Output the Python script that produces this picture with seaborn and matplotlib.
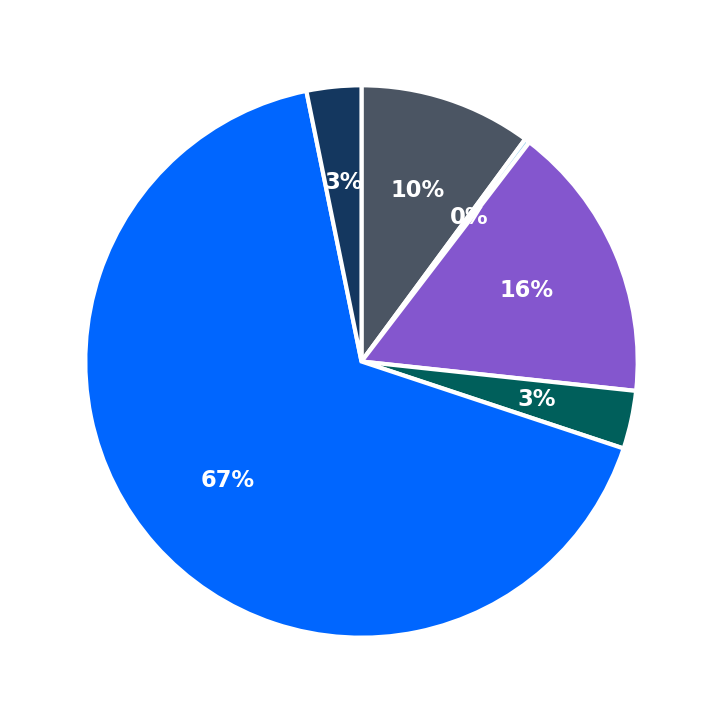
import matplotlib
matplotlib.use("Agg")
import matplotlib.pyplot as plt
import seaborn as sns

# Slice data (clockwise from top)
labels = ["Gray", "Light", "Purple", "Teal", "Blue", "Navy"]
values = [10.1, 0.3, 16.3, 3.4, 66.7, 3.2]
colors = ["#4b5563", "#a6d8f0", "#8456ce", "#005f5b", "#0066ff", "#14375f"]

sns.set_theme(style="white")

fig = plt.figure(figsize=(7.23, 7.23), dpi=100)
ax = fig.add_axes([0.118, 0.118, 0.764, 0.764])

wedges, texts, autotexts = ax.pie(
    values,
    colors=colors,
    startangle=90,
    counterclock=False,
    autopct="%1.0f%%",
    pctdistance=0.65,
    wedgeprops={"edgecolor": "white", "linewidth": 3, "clip_on": False},
    textprops={"color": "white", "fontsize": 16.3, "fontweight": "bold"},
)
ax.set_aspect("equal")
ax.set_xlim(-1.0, 1.0)
ax.set_ylim(-1.0, 1.0)

fig.savefig("out.png", dpi=100, facecolor="white")
